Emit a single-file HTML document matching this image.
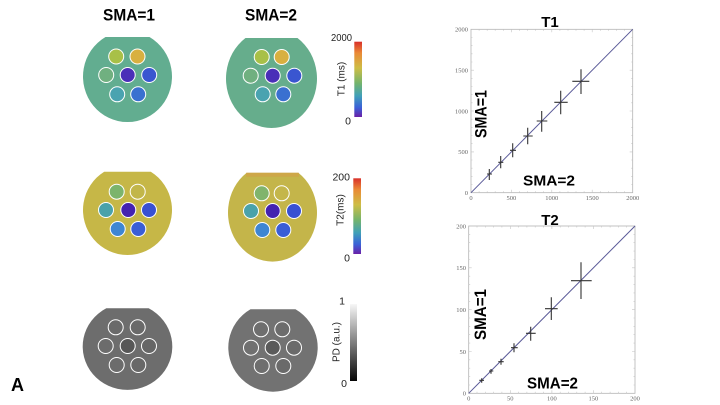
<!DOCTYPE html>
<html><head><meta charset="utf-8"><style>
html,body{margin:0;padding:0;background:#fff;}
svg{display:block;}
</style></head><body>
<svg width="720" height="405" viewBox="0 0 720 405" xmlns="http://www.w3.org/2000/svg">
<defs>
<linearGradient id="rb" x1="0" y1="0" x2="0" y2="1">
<stop offset="0" stop-color="#d9302a"/>
<stop offset="0.15" stop-color="#ea8a35"/>
<stop offset="0.35" stop-color="#cdbd45"/>
<stop offset="0.55" stop-color="#74b46c"/>
<stop offset="0.72" stop-color="#40a0b8"/>
<stop offset="0.87" stop-color="#3a62d8"/>
<stop offset="1" stop-color="#6a20a8"/>
</linearGradient>
<linearGradient id="gy" x1="0" y1="0" x2="0" y2="1">
<stop offset="0" stop-color="#f7f7f7"/>
<stop offset="1" stop-color="#050505"/>
</linearGradient>
</defs>

<!-- Titles -->
<text x="129" y="20.7" font-family="Liberation Sans, sans-serif" font-weight="bold" font-size="17" text-anchor="middle" textLength="52" lengthAdjust="spacingAndGlyphs" fill="#000">SMA=1</text>
<text x="271" y="20.7" font-family="Liberation Sans, sans-serif" font-weight="bold" font-size="17" text-anchor="middle" textLength="52" lengthAdjust="spacingAndGlyphs" fill="#000">SMA=2</text>

<!-- T1 phantoms -->
<path d="M105.5,37 L149.5,37 A44.5,45.5 0 1 1 105.5,37 Z" fill="#62ad90"/>
<path d="M245.5,38 L297.5,38 A45.5,49.4 0 1 1 245.5,38 Z" fill="#66ad8c"/>
<g stroke="#fff" stroke-width="1">
<g transform="translate(127.7,75)">
<circle cx="-11.5" cy="-18.5" r="7.5" fill="#a8c048"/>
<circle cx="9.8" cy="-18.5" r="7.5" fill="#d8b040"/>
<circle cx="-21.5" cy="0" r="7.5" fill="#70b080"/>
<circle cx="0" cy="0" r="7.5" fill="#4a2fb8"/>
<circle cx="21.5" cy="0" r="7.5" fill="#3a56d0"/>
<circle cx="-10.5" cy="19.3" r="7.5" fill="#4aa3b0"/>
<circle cx="10.5" cy="19.3" r="7.5" fill="#3a70d0"/>
</g>
<g transform="translate(272.7,75.7)">
<circle cx="-11" cy="-18.7" r="7.5" fill="#a8c048"/>
<circle cx="9" cy="-18.7" r="7.5" fill="#d8b040"/>
<circle cx="-22" cy="0" r="7.5" fill="#70b080"/>
<circle cx="0" cy="0" r="7.5" fill="#4a2fb8"/>
<circle cx="21.6" cy="0" r="7.5" fill="#3a56d0"/>
<circle cx="-10" cy="18.6" r="7.5" fill="#4aa3b0"/>
<circle cx="10.6" cy="18.6" r="7.5" fill="#3a70d0"/>
</g>
</g>

<!-- T2 phantoms -->
<path d="M104.2,171.7 L150.8,171.7 A44.5,45 0 1 1 104.2,171.7 Z" fill="#c6b747"/>
<path d="M246.7,172.7 L298.3,172.7 A44.5,49 0 1 1 246.7,172.7 Z" fill="#c4b54a"/>
<rect x="246" y="172.7" width="53" height="4" fill="#d89a45" opacity="0.5"/>
<g stroke="#fff" stroke-width="1">
<g transform="translate(128.3,210)">
<circle cx="-11.6" cy="-18.3" r="7.5" fill="#7cb46c"/>
<circle cx="9.4" cy="-18.3" r="7.5" fill="#c2b64a"/>
<circle cx="-22.3" cy="0" r="7.5" fill="#4aa2aa"/>
<circle cx="0" cy="0" r="7.5" fill="#4422b0"/>
<circle cx="20.7" cy="0" r="7.5" fill="#3850d2"/>
<circle cx="-10.6" cy="19" r="7.5" fill="#3e86d2"/>
<circle cx="10" cy="19" r="7.5" fill="#3a5ed6"/>
</g>
<g transform="translate(272.7,211)">
<circle cx="-11" cy="-17.7" r="7.5" fill="#80b46c"/>
<circle cx="9" cy="-17.7" r="7.5" fill="#c4b64a"/>
<circle cx="-21.7" cy="0" r="7.5" fill="#4aa2aa"/>
<circle cx="0" cy="0" r="7.5" fill="#4422b0"/>
<circle cx="21.3" cy="0" r="7.5" fill="#3850d2"/>
<circle cx="-10.4" cy="19" r="7.5" fill="#3e86d2"/>
<circle cx="10.6" cy="19" r="7.5" fill="#3a5ed6"/>
</g>
</g>

<!-- PD phantoms -->
<path d="M106.3,308.3 L148.7,308.3 A44.8,43.4 0 1 1 106.3,308.3 Z" fill="#6d6d6d"/>
<path d="M250.5,309.3 L295.5,309.3 A44.7,44.2 0 1 1 250.5,309.3 Z" fill="#727272"/>
<g stroke="#fff" stroke-width="1">
<g transform="translate(127.7,346)">
<circle cx="-12" cy="-18.7" r="7.5" fill="#6a6a6a"/>
<circle cx="10" cy="-18.7" r="7.5" fill="#6a6a6a"/>
<circle cx="-22" cy="0" r="7.5" fill="#6c6c6c"/>
<circle cx="0" cy="0" r="7.5" fill="#575757"/>
<circle cx="21.3" cy="0" r="7.5" fill="#666"/>
<circle cx="-11" cy="19" r="7.5" fill="#6c6c6c"/>
<circle cx="10.6" cy="19" r="7.5" fill="#686868"/>
</g>
<g transform="translate(272.7,347.7)">
<circle cx="-11.7" cy="-18.4" r="7.5" fill="#6e6e6e"/>
<circle cx="9.6" cy="-18.4" r="7.5" fill="#6c6c6c"/>
<circle cx="-21.7" cy="0" r="7.5" fill="#707070"/>
<circle cx="0" cy="0" r="7.5" fill="#5a5a5a"/>
<circle cx="21.3" cy="0" r="7.5" fill="#6a6a6a"/>
<circle cx="-11" cy="18.3" r="7.5" fill="#6e6e6e"/>
<circle cx="10.6" cy="18.3" r="7.5" fill="#6a6a6a"/>
</g>
</g>

<text x="17.5" y="391" font-family="Liberation Sans, sans-serif" font-weight="bold" font-size="18" text-anchor="middle" fill="#000">A</text>

<!-- Colorbars -->
<g font-family="Liberation Sans, sans-serif" font-size="10.5" fill="#222">
<rect x="354.3" y="41.7" width="7.7" height="75.3" fill="url(#rb)"/>
<text x="352" y="41" text-anchor="end" textLength="21" lengthAdjust="spacingAndGlyphs">2000</text>
<text x="351" y="124.5" text-anchor="end">0</text>
<text transform="translate(342,79) rotate(-90)" text-anchor="middle" dominant-baseline="central" font-size="10">T1 (ms)</text>

<rect x="353.3" y="178.3" width="7.7" height="75.7" fill="url(#rb)"/>
<text x="350" y="180.5" text-anchor="end">200</text>
<text x="350" y="261.5" text-anchor="end">0</text>
<text transform="translate(341,210) rotate(-90)" text-anchor="middle" dominant-baseline="central" font-size="10">T2(ms)</text>

<rect x="350" y="304" width="7" height="77" fill="url(#gy)"/>
<text x="345" y="304.5" text-anchor="end">1</text>
<text x="347" y="387" text-anchor="end">0</text>
<text transform="translate(337,342) rotate(-90)" text-anchor="middle" dominant-baseline="central" font-size="10">PD (a.u.)</text>
</g>

<!-- T1 chart -->
<text x="550" y="27" font-family="Liberation Sans, sans-serif" font-weight="bold" font-size="15" text-anchor="middle" fill="#000">T1</text>
<rect x="471" y="29.3" width="161.7" height="163.4" fill="none" stroke="#b4b4b4" stroke-width="0.8"/>
<g stroke="#c4c4c4" stroke-width="0.6">
<path d="M479.1,192.7v-1.5M487.2,192.7v-1.5M495.2,192.7v-1.5M503.3,192.7v-1.5M511.4,192.7v-3M519.5,192.7v-1.5M527.6,192.7v-1.5M535.6,192.7v-1.5M543.7,192.7v-1.5M551.8,192.7v-3M559.9,192.7v-1.5M568,192.7v-1.5M576,192.7v-1.5M584.1,192.7v-1.5M592.2,192.7v-3M600.3,192.7v-1.5M608.4,192.7v-1.5M616.4,192.7v-1.5M624.5,192.7v-1.5"/>
<path d="M479.1,29.3v1.5M487.2,29.3v1.5M495.2,29.3v1.5M503.3,29.3v1.5M511.4,29.3v3M519.5,29.3v1.5M527.6,29.3v1.5M535.6,29.3v1.5M543.7,29.3v1.5M551.8,29.3v3M559.9,29.3v1.5M568,29.3v1.5M576,29.3v1.5M584.1,29.3v1.5M592.2,29.3v3M600.3,29.3v1.5M608.4,29.3v1.5M616.4,29.3v1.5M624.5,29.3v1.5"/>
<path d="M471,184.5h1.5M471,176.4h1.5M471,168.2h1.5M471,160h1.5M471,151.9h3M471,143.7h1.5M471,135.5h1.5M471,127.3h1.5M471,119.2h1.5M471,111h3M471,102.8h1.5M471,94.6h1.5M471,86.5h1.5M471,78.3h1.5M471,70.2h3M471,62h1.5M471,53.8h1.5M471,45.6h1.5M471,37.5h1.5"/>
<path d="M632.7,184.5h-1.5M632.7,176.4h-1.5M632.7,168.2h-1.5M632.7,160h-1.5M632.7,151.9h-3M632.7,143.7h-1.5M632.7,135.5h-1.5M632.7,127.3h-1.5M632.7,119.2h-1.5M632.7,111h-3M632.7,102.8h-1.5M632.7,94.6h-1.5M632.7,86.5h-1.5M632.7,78.3h-1.5M632.7,70.2h-3M632.7,62h-1.5M632.7,53.8h-1.5M632.7,45.6h-1.5M632.7,37.5h-1.5"/>
</g>
<g font-family="Liberation Serif, serif" font-size="6.5" fill="#666">
<text x="468" y="195" text-anchor="end">0</text>
<text x="468" y="154.2" text-anchor="end">500</text>
<text x="468" y="113.3" text-anchor="end">1000</text>
<text x="468" y="72.5" text-anchor="end">1500</text>
<text x="468" y="31.6" text-anchor="end">2000</text>
<text x="471" y="200" text-anchor="middle">0</text>
<text x="511.4" y="200" text-anchor="middle">500</text>
<text x="551.8" y="200" text-anchor="middle">1000</text>
<text x="592.2" y="200" text-anchor="middle">1500</text>
<text x="632.7" y="200" text-anchor="middle">2000</text>
</g>
<line x1="471" y1="192.7" x2="632.7" y2="29.3" stroke="#5a5a98" stroke-width="1"/>
<g stroke="#333" stroke-width="1.1">
<path d="M489.3,169V180M487,174H492"/>
<path d="M500.7,156V168.3M498.3,162.3H503.3"/>
<path d="M512.7,143.3V157.3M510,150.3H516"/>
<path d="M527.7,127.7V144.3M523.3,136H532.7"/>
<path d="M541.7,111V131.7M536.7,121H547.3"/>
<path d="M560.7,90.7V114.3M554.3,102.3H567.7"/>
<path d="M581,69.3V94M572.3,81.3H589.3"/>
</g>
<text transform="translate(486.5,114) rotate(-90)" font-family="Liberation Sans, sans-serif" font-weight="bold" font-size="17" text-anchor="middle" textLength="48" lengthAdjust="spacingAndGlyphs" fill="#000">SMA=1</text>
<text x="549" y="185.5" font-family="Liberation Sans, sans-serif" font-weight="bold" font-size="15" text-anchor="middle" textLength="52" lengthAdjust="spacingAndGlyphs" fill="#000">SMA=2</text>

<!-- T2 chart -->
<text x="550" y="225" font-family="Liberation Sans, sans-serif" font-weight="bold" font-size="15" text-anchor="middle" fill="#000">T2</text>
<rect x="468.7" y="226" width="166.3" height="167.3" fill="none" stroke="#b4b4b4" stroke-width="0.8"/>
<g stroke="#c4c4c4" stroke-width="0.6">
<path d="M477,393.3v-1.5M485.3,393.3v-1.5M493.6,393.3v-1.5M501.9,393.3v-1.5M510.3,393.3v-3M518.6,393.3v-1.5M526.9,393.3v-1.5M535.2,393.3v-1.5M543.5,393.3v-1.5M551.9,393.3v-3M560.2,393.3v-1.5M568.5,393.3v-1.5M576.8,393.3v-1.5M585.1,393.3v-1.5M593.4,393.3v-3M601.7,393.3v-1.5M610.1,393.3v-1.5M618.4,393.3v-1.5M626.7,393.3v-1.5"/>
<path d="M477,226v1.5M485.3,226v1.5M493.6,226v1.5M501.9,226v1.5M510.3,226v3M518.6,226v1.5M526.9,226v1.5M535.2,226v1.5M543.5,226v1.5M551.9,226v3M560.2,226v1.5M568.5,226v1.5M576.8,226v1.5M585.1,226v1.5M593.4,226v3M601.7,226v1.5M610.1,226v1.5M618.4,226v1.5M626.7,226v1.5"/>
<path d="M468.7,385h1.5M468.7,376.6h1.5M468.7,368.2h1.5M468.7,359.8h1.5M468.7,351.5h3M468.7,343.1h1.5M468.7,334.7h1.5M468.7,326.4h1.5M468.7,318h1.5M468.7,309.7h3M468.7,301.3h1.5M468.7,292.9h1.5M468.7,284.6h1.5M468.7,276.2h1.5M468.7,267.8h3M468.7,259.5h1.5M468.7,251.1h1.5M468.7,242.7h1.5M468.7,234.4h1.5"/>
<path d="M635,385h-1.5M635,376.6h-1.5M635,368.2h-1.5M635,359.8h-1.5M635,351.5h-3M635,343.1h-1.5M635,334.7h-1.5M635,326.4h-1.5M635,318h-1.5M635,309.7h-3M635,301.3h-1.5M635,292.9h-1.5M635,284.6h-1.5M635,276.2h-1.5M635,267.8h-3M635,259.5h-1.5M635,251.1h-1.5M635,242.7h-1.5M635,234.4h-1.5"/>
</g>
<g font-family="Liberation Serif, serif" font-size="6.5" fill="#666">
<text x="466" y="395.6" text-anchor="end">0</text>
<text x="466" y="353.8" text-anchor="end">50</text>
<text x="466" y="312" text-anchor="end">100</text>
<text x="466" y="270.1" text-anchor="end">150</text>
<text x="466" y="228.3" text-anchor="end">200</text>
<text x="468.7" y="400.5" text-anchor="middle">0</text>
<text x="510.3" y="400.5" text-anchor="middle">50</text>
<text x="551.9" y="400.5" text-anchor="middle">100</text>
<text x="593.4" y="400.5" text-anchor="middle">150</text>
<text x="635" y="400.5" text-anchor="middle">200</text>
</g>
<line x1="468.7" y1="393.3" x2="635" y2="226" stroke="#5a5a98" stroke-width="1"/>
<g stroke="#333" stroke-width="1.1">
<path d="M481.7,378.3V382.7M479.3,380.3H484"/>
<path d="M491,369V373.7M489,371H493.3"/>
<path d="M501,358.7V364.7M498.3,361.7H503.7"/>
<path d="M514,343.3V352.3M511,347.7H517.7"/>
<path d="M530.7,326.7V340.7M526,333.3H535.7"/>
<path d="M551.3,297.3V320M545,308.7H557.7"/>
<path d="M581,262.3V299M571,280.7H591.7"/>
</g>
<text transform="translate(486,314.5) rotate(-90)" font-family="Liberation Sans, sans-serif" font-weight="bold" font-size="17" text-anchor="middle" textLength="51" lengthAdjust="spacingAndGlyphs" fill="#000">SMA=1</text>
<text x="552.5" y="388.5" font-family="Liberation Sans, sans-serif" font-weight="bold" font-size="15.5" text-anchor="middle" textLength="51" lengthAdjust="spacingAndGlyphs" fill="#000">SMA=2</text>
</svg>
</body></html>
